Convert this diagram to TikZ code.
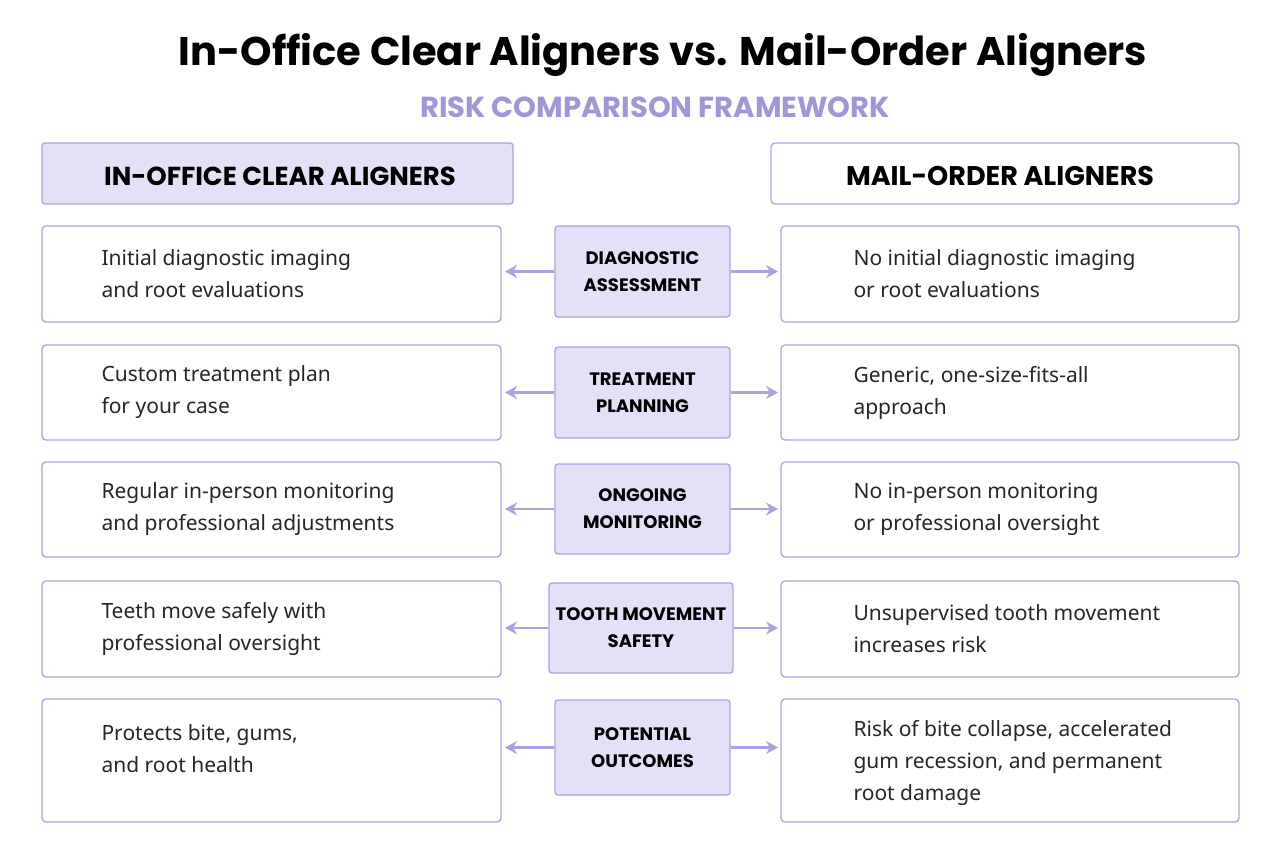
\documentclass[tikz,border=0pt]{standalone}
\usepackage{fontspec}
\usetikzlibrary{arrows.meta}
\setmainfont{Noto Sans}
\newfontfamily\pop{Poppins}
\begin{document}
\begin{tikzpicture}[x=1pt,y=-1pt,
 box/.style={draw=lav,line width=1.3pt,rounded corners=4pt,fill=white},
 cbox/.style={draw=lav,line width=1.3pt,rounded corners=3pt,fill=lavfill},
 txt/.style={anchor=west,align=left,font=\fontsize{21}{32}\selectfont,text=black!85},
 ctxt/.style={align=center,font=\pop\fontsize{18}{27}\selectfont\bfseries},
 arr/.style={draw=lav,line width=2.6pt,-{Stealth[length=12pt,width=13pt]}}]
\definecolor{lav}{HTML}{ABA3E0}
\definecolor{lavfill}{HTML}{E4E0F8}
\definecolor{sub}{HTML}{A096DA}
\useasboundingbox[fill=white] (0,0) rectangle (1280,860);
\node[font=\pop\fontsize{40}{46}\selectfont\bfseries] (title) at (663,55) {In-Office Clear Aligners vs. Mail-Order Aligners};
\node[font=\pop\fontsize{29}{32}\selectfont\bfseries,text=sub] (sub) at (655,107) {RISK COMPARISON FRAMEWORK};
\draw[cbox] (42,143) rectangle (513,204);
\node[font=\pop\fontsize{26}{30}\selectfont\bfseries] (hl) at (280,176) {IN-OFFICE CLEAR ALIGNERS};
\draw[box] (771,143) rectangle (1239,204);
\node[font=\pop\fontsize{27}{30}\selectfont\bfseries] (hr) at (1000,176) {MAIL-ORDER ALIGNERS};
\foreach \i/\ya/\yb/\qa/\qb/\xa/\xb/\lt/\ct/\rt in {
 1/226/322/226/317/555/730/{Initial diagnostic imaging\\and root evaluations}/{DIAGNOSTIC\\ASSESSMENT}/{No initial diagnostic imaging\\or root evaluations},
 2/345/440/347/438/555/730/{Custom treatment plan\\for your case}/{TREATMENT\\PLANNING}/{Generic, one-size-fits-all\\approach},
 3/462/557/464/554/555/730/{Regular in-person monitoring\\and professional adjustments}/{ONGOING\\MONITORING}/{No in-person monitoring\\or professional oversight},
 4/581/677/583/673/549/733/{Teeth move safely with\\professional oversight}/{TOOTH MOVEMENT\\SAFETY}/{Unsupervised tooth movement\\increases risk},
 5/699/822/700/795/555/730/{Protects bite, gums,\\and root health}/{POTENTIAL\\OUTCOMES}/{Risk of bite collapse, accelerated\\gum recession, and permanent\\root damage}}{
 \draw[box] (42,\ya) rectangle (501,\yb);
 \draw[box] (781,\ya) rectangle (1239,\yb);
 \node[cbox,minimum width=\xb-\xa,minimum height=\qb-\qa,inner sep=0pt] (c\i) at ({(\xa+\xb)/2},{(\qa+\qb)/2}) {};
 \node[ctxt] at (c\i) {\ct};
 \ifnum\i=5
 \node[txt] (l\i) at (98,749) {\lt};
 \node[txt] (r\i) at (850,763) {\rt};
 \else
 \node[txt] (l\i) at (98,{(\ya+\yb)/2}) {\lt};
 \node[txt] (r\i) at (850,{(\ya+\yb)/2}) {\rt};
 \fi
 \coordinate (al\i) at (505,{(\qa+\qb)/2});
 \coordinate (ar\i) at (778,{(\qa+\qb)/2});
 \draw[arr] (c\i.west) -- (al\i);
 \draw[arr] (c\i.east) -- (ar\i);
}
\end{tikzpicture}
\end{document}
